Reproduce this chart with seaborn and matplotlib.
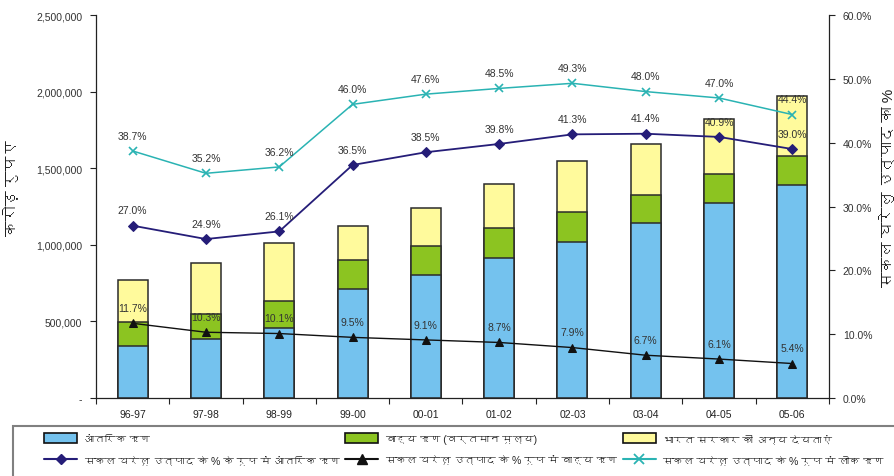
import matplotlib
matplotlib.use("Agg")
import matplotlib.pyplot as plt
import seaborn as sns
import numpy as np
import pandas as pd
from matplotlib import font_manager as fm
from matplotlib.ticker import FuncFormatter, FixedLocator
from matplotlib.lines import Line2D
from matplotlib.patches import Patch, Rectangle

# ---------------- data ----------------
years = ["96-97", "97-98", "98-99", "99-00", "00-01", "01-02", "02-03", "03-04", "04-05", "05-06"]
internal_debt = [341000, 385000, 455000, 711000, 803000, 912000, 1018000, 1140000, 1273000, 1388000]
external_debt = [153000, 165000, 180000, 188000, 187000, 196000, 196000, 183000, 191000, 194000]
other_liab = [276000, 333000, 377000, 222000, 248000, 291000, 333000, 335000, 357000, 387000]
internal_pct = [27.0, 24.9, 26.1, 36.5, 38.5, 39.8, 41.3, 41.4, 40.9, 39.0]
external_pct = [11.7, 10.3, 10.1, 9.5, 9.1, 8.7, 7.9, 6.7, 6.1, 5.4]
public_pct = [38.7, 35.2, 36.2, 46.0, 47.6, 48.5, 49.3, 48.0, 47.0, 44.4]

lbl_internal = "आंतरिक ऋण"
lbl_external = "बाह्य ऋण (वर्तमान मूल्य)"
lbl_other = "भारत सरकार की अन्य देयताएं"
lbl_int_pct = "सकल घरेलू उत्पाद के % के रूप में आंतरिक ऋण"
lbl_ext_pct = "सकल घरेलू उत्पाद के % रूप में बाह्य ऋण"
lbl_pub_pct = "सकल घरेलू उत्पाद के % रूप में लोक ऋण"
ylabel_left = "करोड़ रुपए"
ylabel_right = "सकल घरेलु उत्पाद का %"

# ---------------- fonts ----------------
deva = None
try:
    from fontTools.ttLib import TTFont
    for f in fm.fontManager.ttflist:
        try:
            tt = TTFont(f.fname, fontNumber=0, lazy=True)
            cmap = tt.getBestCmap()
            if cmap and 0x0915 in cmap:
                deva = f.name
                break
        except Exception:
            pass
except Exception:
    pass

sns.set_theme(style="white")
fams = ["Liberation Sans"]
if deva:
    fams.append(deva)
fams.append("DejaVu Sans")
plt.rcParams["font.family"] = fams

# ---------------- figure ----------------
fig = plt.figure(figsize=(8.95, 4.77), dpi=100)
ax = fig.add_axes([96/895, 1-399/477, (829-96)/895, (399-16)/477])

df = pd.DataFrame({"year": years,
                   "blue": internal_debt,
                   "green": np.array(internal_debt) + np.array(external_debt),
                   "yellow": np.array(internal_debt) + np.array(external_debt) + np.array(other_liab)})

c_blue, c_green, c_yellow = "#74C2EE", "#8CC421", "#FFFA9C"
for col, c in [("yellow", c_yellow), ("green", c_green), ("blue", c_blue)]:
    sns.barplot(data=df, x="year", y=col, color=c, width=0.41, edgecolor="#2b2b2b",
                linewidth=1.1, saturation=1, ax=ax, zorder=2)

ax.set_xlim(-0.5, 9.5)
ax.set_ylim(0, 2500000)
ax.yaxis.set_major_locator(FixedLocator([0, 500000, 1000000, 1500000, 2000000, 2500000]))
ax.yaxis.set_major_formatter(FuncFormatter(lambda v, p: "-" if v == 0 else f"{int(v):,}"))
ax.set_xlabel("")
ax.set_ylabel(ylabel_left, fontsize=11, color="#222")
ax.yaxis.set_label_coords((20-96)/733, 0.55)
ax.set_xticks(range(len(years)))
ax.set_xticklabels(years, fontsize=7.5, color="#222")
ax.set_xticks(np.arange(-0.5, 10, 1), minor=True)
ax.tick_params(axis="x", which="major", length=0, pad=8)
ax.tick_params(axis="x", which="minor", length=4, width=0.8, color="#222", direction="out", bottom=True)
ax.tick_params(axis="y", length=4, width=0.8, color="#222", direction="out", left=True, labelsize=7.5, labelcolor="#333", pad=6)
for s in ["top", "right"]:
    ax.spines[s].set_visible(False)
for s in ["left", "bottom"]:
    ax.spines[s].set_color("#222")
    ax.spines[s].set_linewidth(0.9)

# ---------------- right axis ----------------
ax2 = ax.twinx()
ax2.set_ylim(0, 60)
ax2.set_xlim(-0.5, 9.5)
x = np.arange(len(years))
c_navy, c_teal, c_black = "#251D78", "#2AB3B3", "#111111"
sns.lineplot(x=x, y=public_pct, ax=ax2, color=c_teal, marker="x", markersize=6,
             markeredgewidth=1.2, linewidth=1.1, markeredgecolor=c_teal, zorder=3)
sns.lineplot(x=x, y=internal_pct, ax=ax2, color=c_navy, marker="D", markersize=5,
             linewidth=1.3, markeredgecolor=c_navy, zorder=3)
sns.lineplot(x=x, y=external_pct, ax=ax2, color=c_black, marker="^", markersize=6,
             linewidth=1.0, markeredgecolor=c_black, zorder=3)
for series in (public_pct, internal_pct, external_pct):
    for xi, v in zip(x, series):
        ax2.annotate(f"{v:.1f}%", (xi, v), xytext=(0, 11), textcoords="offset points",
                     ha="center", va="center", fontsize=7.5, color="#333")
ax2.yaxis.set_major_locator(FixedLocator(np.arange(0, 61, 10)))
ax2.yaxis.set_major_formatter(FuncFormatter(lambda v, p: f"{v:.1f}%"))
ax2.tick_params(axis="y", length=4, width=0.8, color="#222", direction="out", right=True,
                labelsize=7.5, labelcolor="#333", pad=6)
ax2.set_ylabel(ylabel_right, fontsize=11, color="#222")
ax2.yaxis.set_label_coords((880-96)/733, 0.55)
for s in ["top", "left", "bottom"]:
    ax2.spines[s].set_visible(False)
ax2.spines["right"].set_color("#222")
ax2.spines["right"].set_linewidth(0.9)
ax2.grid(False)
ax.grid(False)

# ---------------- legend ----------------
fig.patches.append(Rectangle((13/895, -0.1), 1.0, (477-427)/477 + 0.1, transform=fig.transFigure,
                             fill=False, edgecolor="#808080", linewidth=1.5))
handles = [
    Patch(facecolor=c_blue, edgecolor="#111", linewidth=1.2),
    Line2D([], [], color=c_navy, marker="D", markersize=5, linewidth=1.5),
    Patch(facecolor=c_green, edgecolor="#111", linewidth=1.2),
    Line2D([], [], color=c_black, marker="^", markersize=7, linewidth=1.5),
    Patch(facecolor=c_yellow, edgecolor="#111", linewidth=1.2),
    Line2D([], [], color=c_teal, marker="x", markersize=7, markeredgewidth=1.3, linewidth=1.5),
]
labels = [lbl_internal, lbl_int_pct, lbl_external, lbl_ext_pct, lbl_other, lbl_pub_pct]
fig.legend(handles, labels, ncol=3, loc="upper left", bbox_to_anchor=(40/895, 1-430/477),
           frameon=False, fontsize=7.6, handlelength=3.1, handleheight=1.1, handletextpad=0.66,
           columnspacing=0.55, labelspacing=1.0, borderaxespad=0)

fig.savefig("out.png", dpi=100, facecolor="white")
